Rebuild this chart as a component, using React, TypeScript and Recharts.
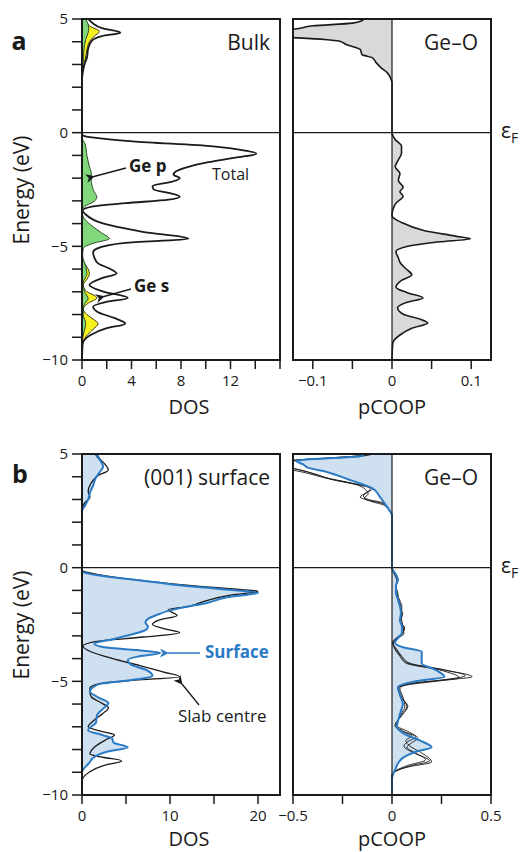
import { useMemo } from 'react';
import { ComposedChart, Area, Line, XAxis, YAxis, ReferenceLine } from 'recharts';

type Pt = [number, number]; // [energy (eV), value]

// ---- bulk (a) ----
const bulkTotal: Pt[] = [
  [5, 0.5], [4.8, 0.9], [4.6, 1.6], [4.4, 3.1], [4.25, 1.6], [4.05, 0.8], [3.7, 0.5], [3.3, 0.4],
  [3.0, 0.2], [2.6, 0.05], [2.3, 0], [-0.09, 0], [-0.15, 0.2], [-0.25, 1.5], [-0.38, 4.1], [-0.6, 10.6],
  [-0.8, 13.3], [-0.93, 14.1], [-1.1, 12.4], [-1.3, 10.2], [-1.5, 8.6], [-1.7, 7.6], [-1.85, 7.4],
  [-2.0, 7.9], [-2.15, 7.3], [-2.35, 5.7], [-2.5, 5.8], [-2.65, 7.0], [-2.82, 7.9], [-2.95, 7.0],
  [-3.1, 3.5], [-3.25, 0.8], [-3.42, 0.05], [-3.6, 0.3], [-3.96, 1.5], [-4.36, 4.9], [-4.67, 8.6],
  [-4.85, 3.5], [-5.1, 1.2], [-5.25, 0.9], [-5.5, 1.0], [-5.75, 1.3], [-6.0, 2.3], [-6.2, 2.8],
  [-6.4, 1.6], [-6.7, 0.6], [-7.0, 1.8], [-7.27, 3.7], [-7.45, 1.9], [-7.65, 0.9], [-7.9, 1.3],
  [-8.15, 2.6], [-8.4, 3.5], [-8.6, 2.0], [-8.9, 0.7], [-9.3, 0.05], [-10, 0],
];
const bulkGeP: Pt[] = [
  [5, 0.3], [4.6, 0.55], [4.4, 0.5], [4.1, 0.3], [3.6, 0.15], [3.1, 0.1], [2.6, 0], [-0.2, 0],
  [-0.5, 0.25], [-1.0, 0.4], [-1.5, 0.6], [-1.8, 0.75], [-2.1, 0.75], [-2.5, 0.9], [-2.85, 1.2],
  [-3.05, 0.9], [-3.25, 0.2], [-3.45, 0], [-3.7, 0.1], [-3.96, 0.5], [-4.36, 1.45], [-4.67, 2.2],
  [-4.85, 1.0], [-5.1, 0.1], [-5.4, 0.05], [-5.9, 0.3], [-6.2, 0.4], [-6.6, 0.1], [-7.0, 0.2],
  [-7.3, 0.5], [-7.6, 0.15], [-8.0, 0.1], [-8.4, 0.3], [-8.9, 0.1], [-9.3, 0], [-10, 0],
];
const bulkGeS: Pt[] = [
  [5, 0.3], [4.7, 0.6], [4.45, 1.4], [4.25, 1.0], [4.0, 0.6], [3.65, 0.4], [3.2, 0.25], [2.8, 0.05],
  [2.6, 0], [-5.4, 0], [-5.7, 0.15], [-6.0, 0.5], [-6.2, 0.6], [-6.45, 0.4], [-6.7, 0.1], [-6.95, 0.3],
  [-7.27, 1.2], [-7.5, 0.5], [-7.75, 0.1], [-8.0, 0.4], [-8.2, 0.9], [-8.4, 1.3], [-8.65, 0.9],
  [-8.95, 0.35], [-9.3, 0.05], [-10, 0],
];
const bulkCoop: Pt[] = [
  [5, -0.035], [4.93, -0.038], [4.82, -0.05], [4.7, -0.1], [4.55, -0.125], [4.45, -0.2], [4.3, -0.2],
  [4.18, -0.125], [4.1, -0.085], [4.02, -0.066], [3.88, -0.058], [3.66, -0.04], [3.44, -0.038],
  [3.3, -0.025], [3.08, -0.02], [2.86, -0.014], [2.64, -0.006], [2.33, -0.001], [2.2, 0], [0, 0],
  [-0.3, 0.004], [-0.6, 0.012], [-0.9, 0.012], [-1.2, 0.008], [-1.5, 0.004], [-1.8, 0.01],
  [-2.1, 0.008], [-2.4, 0.014], [-2.6, 0.01], [-2.8, 0.014], [-3.1, 0.005], [-3.4, 0.001],
  [-3.65, 0], [-3.95, 0.012], [-4.3, 0.04], [-4.55, 0.08], [-4.67, 0.099], [-4.8, 0.06],
  [-5.0, 0.02], [-5.24, 0.005], [-5.5, 0.008], [-5.7, 0.01], [-6.0, 0.018], [-6.25, 0.025],
  [-6.5, 0.012], [-6.8, 0.005], [-7.05, 0.02], [-7.27, 0.039], [-7.45, 0.02], [-7.7, 0.007],
  [-8.0, 0.015], [-8.2, 0.035], [-8.37, 0.045], [-8.6, 0.025], [-8.9, 0.01], [-9.25, 0.001], [-10, 0],
];

// ---- (001) surface slab (b) ----
const slabCentre: Pt[] = [
  [5, 1.7], [4.85, 1.9], [4.55, 2.6], [4.3, 3.0], [4.05, 1.8], [3.7, 1.0], [3.35, 0.7], [3.1, 0.9],
  [2.85, 0.3], [2.6, 0.05], [2.4, 0], [-0.1, 0], [-0.2, 0.5], [-0.35, 2.5], [-0.53, 5.8], [-0.7, 10],
  [-0.82, 13.4], [-0.95, 17.5], [-1.04, 20], [-1.2, 17], [-1.5, 13.7], [-1.7, 12.2], [-1.85, 9.8],
  [-2.1, 10.8], [-2.3, 8.8], [-2.5, 8.0], [-2.7, 9.5], [-2.86, 11.1], [-3.05, 7], [-3.25, 1.5],
  [-3.45, 0.1], [-3.7, 1.0], [-4.0, 3.5], [-4.3, 6.5], [-4.6, 9.3], [-4.8, 11.1], [-4.95, 6],
  [-5.1, 2.0], [-5.3, 0.9], [-5.5, 0.9], [-5.7, 1.1], [-5.95, 2.2], [-6.17, 3.0], [-6.4, 2.4],
  [-6.7, 1.4], [-7.0, 0.7], [-7.2, 2.2], [-7.36, 3.7], [-7.55, 2.8], [-7.9, 1.4], [-8.2, 0.9],
  [-8.35, 2.5], [-8.5, 4.5], [-8.7, 2.5], [-9.0, 0.8], [-9.4, 0], [-10, 0],
];
const slabSurface: Pt[] = [
  [5, 1.5], [4.9, 1.7], [4.7, 2.1], [4.45, 2.4], [4.2, 2.0], [3.9, 1.5], [3.65, 1.3], [3.3, 0.9],
  [3.0, 0.7], [2.7, 0.3], [2.5, 0], [-0.15, 0], [-0.25, 0.6], [-0.4, 3], [-0.55, 6.4], [-0.75, 10.5],
  [-0.95, 16], [-1.1, 20], [-1.3, 16.5], [-1.55, 14.2], [-1.75, 11.5], [-1.9, 9.8], [-2.05, 8.7],
  [-2.25, 7.5], [-2.4, 7.2], [-2.6, 7.5], [-2.75, 7.2], [-2.95, 5.5], [-3.15, 3.5], [-3.35, 1.4],
  [-3.5, 2.5], [-3.65, 7], [-3.75, 8.9], [-3.9, 6.5], [-4.05, 5.2], [-4.25, 5.5], [-4.5, 7.3],
  [-4.75, 8.0], [-4.95, 5.5], [-5.1, 2.2], [-5.25, 1.3], [-5.45, 0.9], [-5.7, 1.8], [-5.95, 3.0],
  [-6.2, 2.4], [-6.5, 1.7], [-6.8, 1.6], [-7.15, 0.7], [-7.35, 2.2], [-7.5, 3.4], [-7.7, 3.6],
  [-7.9, 5.2], [-8.1, 2.8], [-8.3, 1.5], [-8.6, 0.8], [-9.0, 0], [-10, 0],
];
const slabCoopSurface: Pt[] = [
  [5, -0.14], [4.9, -0.16], [4.8, -0.35], [4.7, -0.485], [4.55, -0.45], [4.4, -0.425], [4.2, -0.325],
  [3.9, -0.225], [3.7, -0.16], [3.5, -0.1], [3.1, -0.06], [2.8, -0.035], [2.55, -0.015], [2.3, 0],
  [0, 0], [-0.3, 0.02], [-0.53, 0.03], [-0.8, 0.02], [-1.1, 0.02], [-1.4, 0.03], [-1.7, 0.04],
  [-2.0, 0.045], [-2.3, 0.04], [-2.6, 0.05], [-2.86, 0.05], [-3.1, 0.03], [-3.3, 0.015], [-3.5, 0.055],
  [-3.7, 0.15], [-3.95, 0.15], [-4.2, 0.15], [-4.5, 0.22], [-4.8, 0.265], [-5.0, 0.12], [-5.25, 0.03],
  [-5.6, 0.04], [-6.0, 0.055], [-6.3, 0.045], [-6.6, 0.035], [-7.0, 0.025], [-7.3, 0.06], [-7.6, 0.14],
  [-7.9, 0.2], [-8.1, 0.12], [-8.4, 0.05], [-8.9, 0.015], [-9.3, 0], [-10, 0],
];
const slabCoopLayer1: Pt[] = [
  [5, -0.11], [4.93, -0.15], [4.83, -0.3], [4.72, -0.5], [4.55, -0.56], [4.4, -0.52], [4.28, -0.46],
  [4.1, -0.38], [3.95, -0.33], [3.75, -0.22], [3.5, -0.11], [3.35, -0.12], [3.15, -0.145], [3.0, -0.12],
  [2.85, -0.045], [2.55, -0.015], [2.3, 0], [0, 0], [-0.3, 0.015], [-0.55, 0.028], [-0.85, 0.02],
  [-1.15, 0.026], [-1.45, 0.036], [-1.75, 0.046], [-2.05, 0.05], [-2.35, 0.044], [-2.65, 0.06],
  [-2.9, 0.055], [-3.1, 0.025], [-3.3, 0.004], [-3.6, 0.02], [-3.9, 0.045], [-4.2, 0.08], [-4.5, 0.26],
  [-4.8, 0.405], [-4.95, 0.25], [-5.1, 0.09], [-5.3, 0.035], [-5.7, 0.05], [-6.1, 0.075], [-6.45, 0.05],
  [-6.95, 0.02], [-7.2, 0.06], [-7.45, 0.12], [-7.65, 0.08], [-7.85, 0.06], [-8.15, 0.11], [-8.5, 0.19],
  [-8.7, 0.1], [-8.9, 0.03], [-9.15, 0], [-10, 0],
];
const slabCoopLayer2: Pt[] = [
  [5, -0.1], [4.93, -0.13], [4.83, -0.27], [4.73, -0.47], [4.55, -0.54], [4.38, -0.5], [4.25, -0.44],
  [4.05, -0.37], [3.9, -0.31], [3.7, -0.2], [3.45, -0.1], [3.3, -0.13], [3.1, -0.16], [2.95, -0.11],
  [2.8, -0.04], [2.5, -0.012], [2.3, 0], [0, 0], [-0.3, 0.012], [-0.55, 0.024], [-0.85, 0.022],
  [-1.15, 0.03], [-1.45, 0.032], [-1.75, 0.042], [-2.05, 0.054], [-2.35, 0.04], [-2.65, 0.064],
  [-2.9, 0.05], [-3.1, 0.02], [-3.3, 0.003], [-3.6, 0.025], [-3.9, 0.05], [-4.2, 0.09], [-4.5, 0.27],
  [-4.75, 0.37], [-4.92, 0.27], [-5.1, 0.1], [-5.3, 0.04], [-5.7, 0.055], [-6.1, 0.065], [-6.45, 0.045],
  [-6.95, 0.025], [-7.2, 0.08], [-7.5, 0.13], [-7.7, 0.1], [-7.9, 0.075], [-8.2, 0.13], [-8.45, 0.17],
  [-8.7, 0.08], [-8.9, 0.025], [-9.15, 0], [-10, 0],
];
const slabCoopLayer3: Pt[] = [
  [5, -0.12], [4.92, -0.17], [4.82, -0.33], [4.7, -0.52], [4.5, -0.55], [4.35, -0.53], [4.2, -0.45],
  [4.0, -0.36], [3.85, -0.29], [3.65, -0.18], [3.4, -0.13], [3.25, -0.12], [3.05, -0.14], [2.9, -0.1],
  [2.75, -0.04], [2.45, -0.01], [2.3, 0], [0, 0], [-0.3, 0.018], [-0.55, 0.03], [-0.85, 0.018],
  [-1.15, 0.022], [-1.45, 0.04], [-1.75, 0.05], [-2.05, 0.046], [-2.35, 0.05], [-2.65, 0.056],
  [-2.9, 0.06], [-3.1, 0.03], [-3.3, 0.006], [-3.6, 0.015], [-3.9, 0.04], [-4.2, 0.07], [-4.5, 0.24],
  [-4.85, 0.34], [-5.0, 0.22], [-5.15, 0.08], [-5.3, 0.03], [-5.7, 0.045], [-6.1, 0.08], [-6.45, 0.055],
  [-6.95, 0.015], [-7.2, 0.05], [-7.4, 0.1], [-7.6, 0.07], [-7.85, 0.09], [-8.1, 0.14], [-8.55, 0.2],
  [-8.75, 0.09], [-8.95, 0.02], [-9.15, 0], [-10, 0],
];

// ---- axes ----
const energyTicks = [-10, -9, -8, -7, -6, -5, -4, -3, -2, -1, 0, 1, 2, 3, 4, 5];
const energyLabels = [-10, -5, 0, 5];
const dosTicksA = [0, 2, 4, 6, 8, 10, 12, 14, 16];
const dosLabelsA = [0, 4, 8, 12];
const coopTicksA = [-0.1, -0.05, 0, 0.05, 0.1];
const coopLabelsA = [-0.1, 0, 0.1];
const dosTicksB = [0, 5, 10, 15, 20];
const dosLabelsB = [0, 10, 20];
const coopTicksB = [-0.5, -0.25, 0, 0.25, 0.5];
const coopLabelsB = [-0.5, 0, 0.5];

const FONT = '"Open Sans", "Noto Sans", sans-serif';
const INK = '#1a1a1a';
const BLUE = '#2a7ac4';
const PW = 198;
const PH = 341;

interface SeriesDef {
  key: string;
  pts: Pt[];
  kind: 'area' | 'line';
  stroke: string;
  fill?: string;
  width?: number;
}

interface PanelProps {
  x: number;
  y: number;
  series: SeriesDef[];
  domain: [number, number];
  ticks: number[];
  labels: number[];
  showEnergy: boolean;
  zeroX?: boolean;
}

const fmt = (v: number) => String(v).replace('-', '\u2212');

function buildRows(series: SeriesDef[]) {
  const map = new Map<number, Record<string, number>>();
  for (const s of series) {
    for (const [e, v] of s.pts) {
      const row = map.get(e) ?? { e };
      row[s.key] = v;
      map.set(e, row);
    }
  }
  return Array.from(map.values()).sort((a, b) => b.e - a.e);
}

function Panel({ x, y, series, domain, ticks, labels, showEnergy, zeroX }: PanelProps) {
  const rows = useMemo(() => buildRows(series), [series]);
  const yw = showEnergy ? 60 : 0;
  const ml = showEnergy ? 0 : 22;
  const mt = 12;
  const mr = 22;
  const xh = 36;
  return (
    <>
      <div style={{ position: 'absolute', left: x - yw - ml, top: y - mt }}>
        <ComposedChart
          layout="vertical"
          width={ml + yw + PW + mr}
          height={mt + PH + xh}
          data={rows}
          margin={{ top: mt, right: mr, bottom: 0, left: ml }}
        >
          <XAxis
            type="number"
            domain={domain}
            ticks={ticks}
            allowDataOverflow
            height={xh}
            tickSize={9}
            tickMargin={6}
            axisLine={false}
            tickLine={{ stroke: INK, strokeWidth: 1.5 }}
            tick={{ fill: INK, fontSize: 15, fontFamily: FONT }}
            tickFormatter={(v: number) => (labels.some((l) => Math.abs(l - v) < 1e-9) ? fmt(v) : '')}
          />
          <YAxis
            type="number"
            dataKey="e"
            domain={[-10, 5]}
            ticks={energyTicks}
            reversed
            allowDataOverflow
            hide={!showEnergy}
            width={yw}
            tickSize={10}
            tickMargin={4}
            axisLine={false}
            tickLine={{ stroke: INK, strokeWidth: 1.5 }}
            tick={{ fill: INK, fontSize: 15, fontFamily: FONT }}
            tickFormatter={(v: number) => (energyLabels.includes(v) ? fmt(v) : '')}
          />
          {series.map((s) =>
            s.kind === 'area' ? (
              <Area
                key={s.key}
                dataKey={s.key}
                type="monotone"
                connectNulls
                stroke={s.stroke}
                strokeWidth={s.width ?? 1}
                fill={s.fill}
                fillOpacity={1}
                dot={false}
                activeDot={false}
                isAnimationActive={false}
              />
            ) : (
              <Line
                key={s.key}
                dataKey={s.key}
                type="monotone"
                connectNulls
                stroke={s.stroke}
                strokeWidth={s.width ?? 1.5}
                dot={false}
                activeDot={false}
                isAnimationActive={false}
              />
            ),
          )}
          <ReferenceLine y={0} stroke={INK} strokeWidth={1.2} />
          {zeroX && <ReferenceLine x={0} stroke={INK} strokeWidth={1.2} />}
        </ComposedChart>
      </div>
      <div
        style={{
          position: 'absolute',
          left: x - 1,
          top: y - 1,
          width: PW + 2,
          height: PH + 2,
          border: `2px solid ${INK}`,
          boxSizing: 'border-box',
          pointerEvents: 'none',
        }}
      />
    </>
  );
}

const seriesA1: SeriesDef[] = [
  { key: 'ges', pts: bulkGeS, kind: 'area', stroke: '#3a3a1a', fill: '#f6f21e', width: 1 },
  { key: 'gep', pts: bulkGeP, kind: 'area', stroke: '#2f4a2a', fill: '#80d87a', width: 1 },
  { key: 'total', pts: bulkTotal, kind: 'line', stroke: INK, width: 1.8 },
];
const seriesA2: SeriesDef[] = [
  { key: 'coop', pts: bulkCoop, kind: 'area', stroke: INK, fill: '#d9d9d9', width: 1.6 },
];
const seriesB1: SeriesDef[] = [
  { key: 'fill', pts: slabSurface, kind: 'area', stroke: 'none', fill: '#cfe0f1' },
  { key: 'centre', pts: slabCentre, kind: 'line', stroke: INK, width: 1.3 },
  { key: 'surf', pts: slabSurface, kind: 'line', stroke: BLUE, width: 2 },
];
const seriesB2: SeriesDef[] = [
  { key: 'fill', pts: slabCoopSurface, kind: 'area', stroke: 'none', fill: '#cfe0f1' },
  { key: 'l1', pts: slabCoopLayer1, kind: 'line', stroke: INK, width: 0.9 },
  { key: 'l2', pts: slabCoopLayer2, kind: 'line', stroke: INK, width: 0.9 },
  { key: 'l3', pts: slabCoopLayer3, kind: 'line', stroke: INK, width: 0.9 },
  { key: 'surf', pts: slabCoopSurface, kind: 'line', stroke: BLUE, width: 2 },
];

const txt = { fontFamily: FONT, fill: INK } as const;

export default function App() {
  return (
    <div style={{ position: 'absolute', left: 0, top: 0, width: 520, height: 852, background: '#fff', fontFamily: FONT }}>
      <Panel x={82} y={19} series={seriesA1} domain={[0, 16]} ticks={dosTicksA} labels={dosLabelsA} showEnergy />
      <Panel x={293} y={19} series={seriesA2} domain={[-0.125, 0.125]} ticks={coopTicksA} labels={coopLabelsA} showEnergy={false} zeroX />
      <Panel x={82} y={454} series={seriesB1} domain={[0, 22.5]} ticks={dosTicksB} labels={dosLabelsB} showEnergy />
      <Panel x={293} y={454} series={seriesB2} domain={[-0.5, 0.5]} ticks={coopTicksB} labels={coopLabelsB} showEnergy={false} zeroX />

      <svg width={520} height={852} style={{ position: 'absolute', left: 0, top: 0, pointerEvents: 'none' }}>
        <defs>
          <marker id="headK" viewBox="0 0 10 10" refX="1" refY="5" markerWidth="9" markerHeight="9" orient="auto-start-reverse" markerUnits="userSpaceOnUse">
            <path d="M10,0 L0,5 L10,10 L7,5 Z" fill={INK} />
          </marker>
          <marker id="headB" viewBox="0 0 10 10" refX="1" refY="5" markerWidth="9" markerHeight="9" orient="auto-start-reverse" markerUnits="userSpaceOnUse">
            <path d="M10,0 L0,5 L10,10 L7,5 Z" fill={BLUE} />
          </marker>
        </defs>

        <text x={19} y={50} textAnchor="middle" fontSize={25} fontWeight="bold" {...txt}>a</text>
        <text x={20} y={483} textAnchor="middle" fontSize={25} fontWeight="bold" {...txt}>b</text>

        <text transform="translate(29,190) rotate(-90)" textAnchor="middle" fontSize={21} {...txt}>Energy (eV)</text>
        <text transform="translate(29,625) rotate(-90)" textAnchor="middle" fontSize={21} {...txt}>Energy (eV)</text>

        <text x={189} y={414} textAnchor="middle" fontSize={20} {...txt}>DOS</text>
        <text x={392} y={414} textAnchor="middle" fontSize={20} {...txt}>pCOOP</text>
        <text x={189} y={846} textAnchor="middle" fontSize={20} {...txt}>DOS</text>
        <text x={392} y={846} textAnchor="middle" fontSize={20} {...txt}>pCOOP</text>

        <text x={270} y={50} textAnchor="end" fontSize={21} {...txt}>Bulk</text>
        <text x={478} y={50} textAnchor="end" fontSize={21} {...txt}>Ge–O</text>
        <text x={270} y={485} textAnchor="end" fontSize={21} {...txt}>(001) surface</text>
        <text x={478} y={485} textAnchor="end" fontSize={21} {...txt}>Ge–O</text>

        <text x={501} y={138} fontSize={21} {...txt}>ε</text>
        <text x={511} y={143} fontSize={14} {...txt}>F</text>
        <text x={501} y={573} fontSize={21} {...txt}>ε</text>
        <text x={511} y={578} fontSize={14} {...txt}>F</text>

        <text x={212} y={180} fontSize={16} {...txt}>Total</text>
        <text x={129} y={172} fontSize={17} fontWeight="bold" {...txt}>Ge p</text>
        <line x1={126} y1={168} x2={94} y2={176.5} stroke={INK} strokeWidth={1.3} markerEnd="url(#headK)" />
        <text x={134} y={292} fontSize={17} fontWeight="bold" {...txt}>Ge s</text>
        <line x1={131} y1={289} x2={104} y2={296.5} stroke={INK} strokeWidth={1.3} markerEnd="url(#headK)" />

        <text x={205} y={658} fontSize={17} fontWeight="bold" fontFamily={FONT} fill={BLUE}>Surface</text>
        <line x1={200} y1={653} x2={168} y2={653} stroke={BLUE} strokeWidth={1.5} markerEnd="url(#headB)" />
        <text x={178} y={722} fontSize={17} {...txt}>Slab centre</text>
        <line x1={199} y1={705} x2={182} y2={684} stroke={INK} strokeWidth={1.3} markerEnd="url(#headK)" />
      </svg>
    </div>
  );
}
